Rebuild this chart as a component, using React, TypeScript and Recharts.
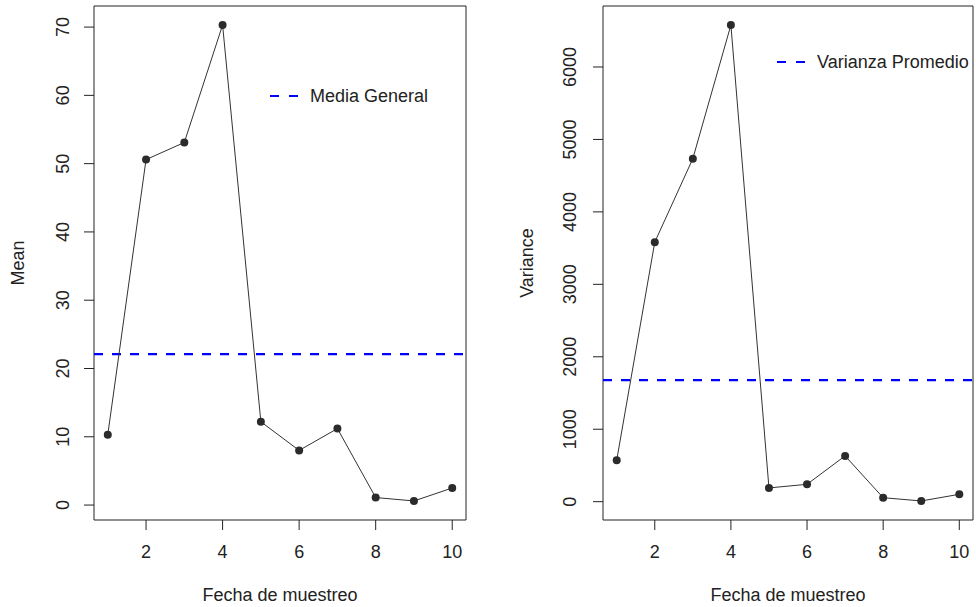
import React from 'react'
import {
  LineChart,
  Line,
  XAxis,
  YAxis,
  ReferenceLine,
  ReferenceArea,
  Legend,
} from 'recharts'

const fechas = [1, 2, 3, 4, 5, 6, 7, 8, 9, 10]
const meanValues = [10.3, 50.6, 53.1, 70.3, 12.2, 8.0, 11.2, 1.1, 0.6, 2.5]
const varianceValues = [573, 3582, 4735, 6579, 190, 240, 632, 55, 10, 102]
const mediaGeneral = 22.1
const varianzaPromedio = 1679
const xTicks = [2, 4, 6, 8, 10]
const meanTicks = [0, 10, 20, 30, 40, 50, 60, 70]
const varianceTicks = [0, 1000, 2000, 3000, 4000, 5000, 6000]

const FONT = '"Liberation Sans", Arial, sans-serif'
const FS = 18
const INK = '#222'

// R-style axis range: data range padded by 4% on each side
function rDomain(vals: number[]): [number, number] {
  const lo = Math.min(...vals)
  const hi = Math.max(...vals)
  const pad = (hi - lo) * 0.04
  return [lo - pad, hi + pad]
}

const YTick = (props: any) => {
  const { x, y, payload } = props
  return (
    <text
      x={x}
      y={y}
      transform={`rotate(-90, ${x}, ${y})`}
      textAnchor="middle"
      dominantBaseline="central"
      fontSize={FS}
      fontFamily={FONT}
      fill={INK}
    >
      {payload.value}
    </text>
  )
}

const XTick = (props: any) => {
  const { x, y, payload } = props
  return (
    <text x={x} y={y} textAnchor="middle" dominantBaseline="central" fontSize={FS} fontFamily={FONT} fill={INK}>
      {payload.value}
    </text>
  )
}

function LegendBox({ text }: { text: string }) {
  return (
    <div style={{ display: 'flex', alignItems: 'center', height: 20, whiteSpace: 'nowrap' }}>
      <svg width={29} height={10} style={{ display: 'block' }}>
        <line x1={0} y1={5} x2={29} y2={5} stroke="#0000ff" strokeWidth={2.2} strokeDasharray="9 10" />
      </svg>
      <span style={{ marginLeft: 11, fontSize: FS, fontFamily: FONT, color: INK }}>{text}</span>
    </div>
  )
}

interface PanelProps {
  values: number[]
  ticks: number[]
  refValue: number
  yLabel: string
  legendText: string
  axisWidth: number
  rightMargin: number
  legendPos: { top: number; left: number }
  tickGap: number
}

function Panel({ values, ticks, refValue, yLabel, legendText, axisWidth, rightMargin, legendPos, tickGap }: PanelProps) {
  const data = fechas.map((f, i) => ({ fecha: f, v: values[i] }))
  const xDom = rDomain(fechas)
  const yDom = rDomain(values)

  return (
    <LineChart width={488} height={607} data={data} margin={{ top: 6, right: rightMargin, left: 0, bottom: 0 }}>
      <XAxis
        dataKey="fecha"
        type="number"
        domain={xDom}
        ticks={xTicks}
        axisLine={false}
        tickLine={{ stroke: INK }}
        tickSize={10}
        tickMargin={22}
        height={87}
        tick={<XTick />}
        label={(p: any) => {
          const vb = p.viewBox
          return (
            <text
              x={vb.x + vb.width / 2}
              y={vb.y + 75}
              textAnchor="middle"
              dominantBaseline="central"
              fontSize={FS}
              fontFamily={FONT}
              fill={INK}
            >
              Fecha de muestreo
            </text>
          )
        }}
      />
      <YAxis
        type="number"
        domain={yDom}
        ticks={ticks}
        axisLine={false}
        tickLine={{ stroke: INK }}
        tickSize={10}
        tickMargin={tickGap}
        width={axisWidth}
        tick={<YTick />}
        label={(p: any) => {
          const vb = p.viewBox
          const cx = vb.x + vb.width - 76
          const cy = vb.y + vb.height / 2
          return (
            <text
              x={cx}
              y={cy}
              transform={`rotate(-90, ${cx}, ${cy})`}
              textAnchor="middle"
              dominantBaseline="central"
              fontSize={FS}
              fontFamily={FONT}
              fill={INK}
            >
              {yLabel}
            </text>
          )
        }}
      />
      <ReferenceArea x1={xDom[0]} x2={xDom[1]} y1={yDom[0]} y2={yDom[1]} fill="none" fillOpacity={0} stroke={INK} strokeWidth={1} />
      <ReferenceLine y={refValue} stroke="#0000ff" strokeWidth={2.2} strokeDasharray="9 9" />
      <Line
        type="linear"
        dataKey="v"
        stroke="#333"
        strokeWidth={1}
        dot={{ r: 4, fill: '#2b2b2b', stroke: '#2b2b2b', strokeWidth: 0 }}
        activeDot={false}
        isAnimationActive={false}
      />
      <Legend
        layout="horizontal"
        verticalAlign="middle"
        align="center"
        width={220}
        wrapperStyle={{ top: legendPos.top, left: legendPos.left, width: 'auto' }}
        content={() => <LegendBox text={legendText} />}
      />
    </LineChart>
  )
}

export default function App() {
  return (
    <div style={{ position: 'absolute', left: 0, top: 0, width: 976, height: 607, background: '#fff', fontFamily: FONT }}>
      <div style={{ position: 'absolute', left: 0, top: 0 }}>
        <Panel
          values={meanValues}
          ticks={meanTicks}
          refValue={mediaGeneral}
          yLabel="Mean"
          legendText="Media General"
          axisWidth={94}
          rightMargin={22}
          legendPos={{ top: 86, left: 270 }}
          tickGap={21}
        />
      </div>
      <div style={{ position: 'absolute', left: 488, top: 0 }}>
        <Panel
          values={varianceValues}
          ticks={varianceTicks}
          refValue={varianzaPromedio}
          yLabel="Variance"
          legendText="Varianza Promedio"
          axisWidth={115}
          rightMargin={3}
          legendPos={{ top: 52, left: 289 }}
          tickGap={23}
        />
      </div>
    </div>
  )
}
